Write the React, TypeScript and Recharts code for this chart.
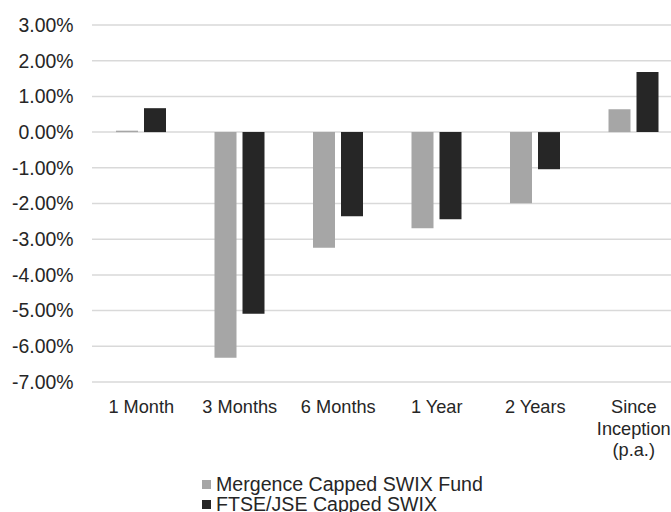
import React from "react";
import {
  BarChart,
  Bar,
  XAxis,
  YAxis,
  CartesianGrid,
  Legend,
} from "recharts";

const periods = ["1 Month", "3 Months", "6 Months", "1 Year", "2 Years", "Since Inception (p.a.)"];
const fundReturns = [0.04, -6.32, -3.24, -2.69, -1.99, 0.64];
const indexReturns = [0.67, -5.09, -2.36, -2.44, -1.04, 1.68];
const yTicks = [3, 2, 1, 0, -1, -2, -3, -4, -5, -6, -7];

const FUND = "Mergence Capped SWIX Fund";
const INDEX = "FTSE/JSE Capped SWIX";
const legendOrder = [FUND, INDEX];

const GREY = "#a6a6a6";
const DARK = "#262626";
const FONT = "'Liberation Sans', Arial, sans-serif";

const data = periods.map((p, i) => ({
  period: p,
  fund: fundReturns[i],
  index: indexReturns[i],
}));

// wraps long labels onto several lines, like "Since / Inception / (p.a.)"
// eslint-disable-next-line @typescript-eslint/no-explicit-any
const PeriodTick = ({ x, y, payload }: any) => {
  const label: string = payload.value;
  const lines = label.length > 10 ? label.split(" ") : [label];
  return (
    <text x={x} y={y} textAnchor="middle" fill={DARK} fontSize={18.2} fontFamily={FONT}>
      {lines.map((l, i) => (
        <tspan key={i} x={x} dy={i === 0 ? 23 : 21.7}>
          {l}
        </tspan>
      ))}
    </text>
  );
};

// eslint-disable-next-line @typescript-eslint/no-explicit-any
const LegendBox = ({ payload }: any) => {
  const items = [...(payload || [])].sort(
    // eslint-disable-next-line @typescript-eslint/no-explicit-any
    (a: any, b: any) => legendOrder.indexOf(a.value) - legendOrder.indexOf(b.value)
  );
  return (
    <div style={{ fontFamily: FONT, fontSize: 19.6, color: DARK, lineHeight: "20px" }}>
      {/* eslint-disable-next-line @typescript-eslint/no-explicit-any */}
      {items.map((entry: any) => (
        <div key={entry.value} style={{ display: "flex", alignItems: "center", whiteSpace: "nowrap", height: 20 }}>
          <span
            style={{
              display: "inline-block",
              width: 9,
              height: 9,
              background: entry.color,
              marginRight: 5,
            }}
          />
          {entry.value}
        </div>
      ))}
    </div>
  );
};

export default function App() {
  return (
    <div
      style={{
        position: "absolute",
        left: 0,
        top: 0,
        width: 671,
        height: 512,
        overflow: "hidden",
        background: "#fff",
      }}
    >
      <BarChart
        width={690}
        height={512}
        data={data}
        margin={{ top: 25, right: 7, left: 0, bottom: 70 }}
        barSize={22}
        barGap={6}
      >
        <CartesianGrid vertical={false} stroke="#d9d9d9" strokeWidth={1.5} />
        <XAxis
          dataKey="period"
          axisLine={false}
          tickLine={false}
          interval={0}
          tick={<PeriodTick />}
          height={60}
        />
        <YAxis
          width={92}
          domain={[-7, 3]}
          ticks={yTicks}
          interval={0}
          axisLine={false}
          tickLine={false}
          tickSize={0}
          tickMargin={18.5}
          tickFormatter={(v: number) => `${v.toFixed(2)}%`}
          tick={{ fill: DARK, fontSize: 19.4, fontFamily: FONT }}
        />
        <Legend
          layout="vertical"
          align="center"
          verticalAlign="middle"
          content={<LegendBox />}
          wrapperStyle={{ left: 202, top: 474, width: 320 }}
        />
        <Bar dataKey="fund" name={FUND} fill={GREY} isAnimationActive={false} />
        <Bar dataKey="index" name={INDEX} fill={DARK} isAnimationActive={false} />
      </BarChart>
    </div>
  );
}
